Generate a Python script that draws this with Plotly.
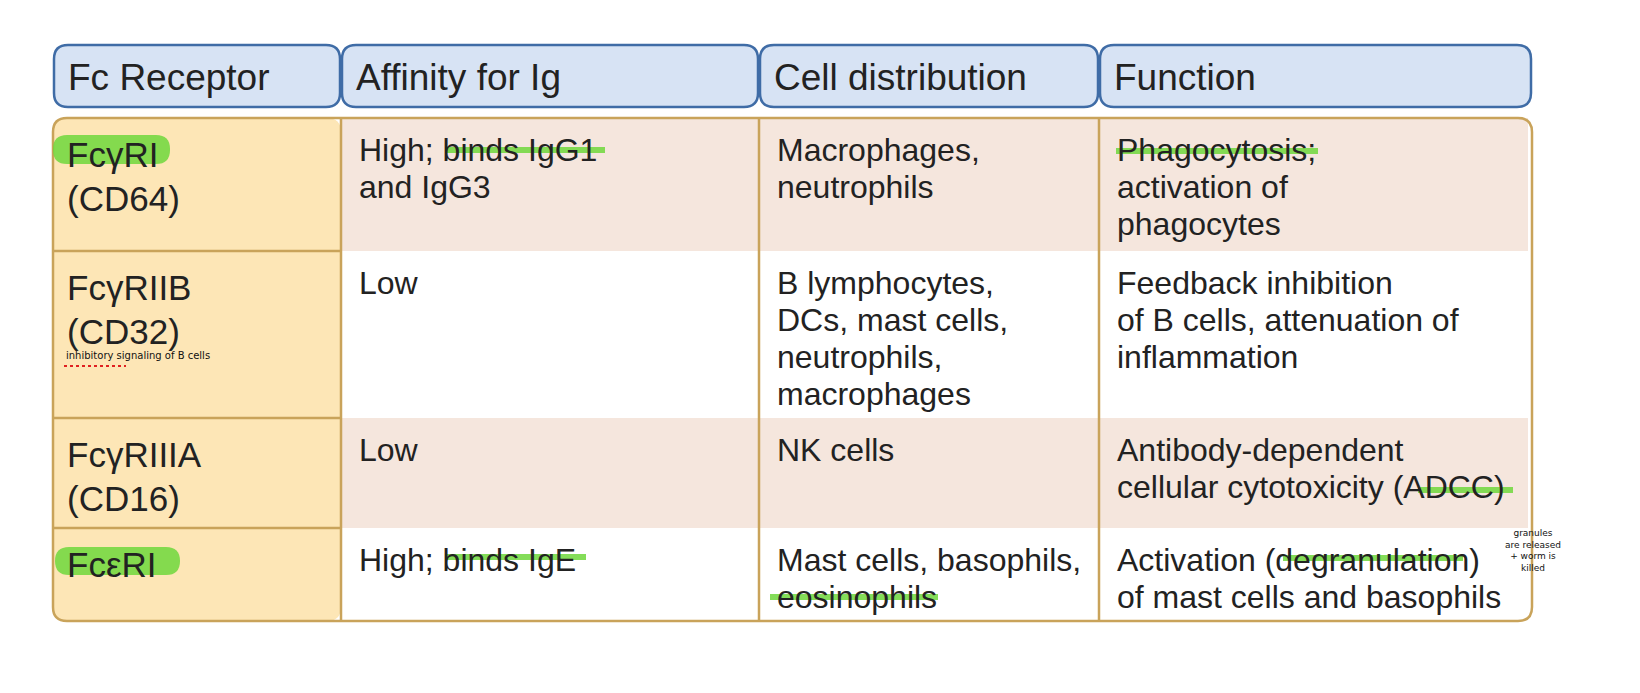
import plotly.graph_objects as go

headers = ["Fc Receptor", "Affinity for Ig", "Cell distribution", "Function"]
receptors = [["FcγRI", "(CD64)"], ["FcγRIIB", "(CD32)"], ["FcγRIIIA", "(CD16)"], ["FcεRI"]]
affinity = [["High; binds IgG1", "and IgG3"], ["Low"], ["Low"], ["High; binds IgE"]]
distribution = [["Macrophages,", "neutrophils"],
                ["B lymphocytes,", "DCs, mast cells,", "neutrophils,", "macrophages"],
                ["NK cells"],
                ["Mast cells, basophils,", "eosinophils"]]
function = [["Phagocytosis;", "activation of", "phagocytes"],
            ["Feedback inhibition", "of B cells, attenuation of", "inflammation"],
            ["Antibody-dependent", "cellular cytotoxicity (ADCC)"],
            ["Activation (degranulation)", "of mast cells and basophils"]]

col_x = [45, 333, 751, 1091, 1524]
row_y = [110, 243, 410, 520, 613]

fig = go.Figure()
fig.update_xaxes(range=[0, 1640], visible=False, fixedrange=True)
fig.update_yaxes(range=[693, 0], visible=False, fixedrange=True)

def rrect(x0, y0, x1, y1, r):
    return (f"M{x0+r},{y0} L{x1-r},{y0} Q{x1},{y0} {x1},{y0+r} L{x1},{y1-r} Q{x1},{y1} {x1-r},{y1} "
            f"L{x0+r},{y1} Q{x0},{y1} {x0},{y1-r} L{x0},{y0+r} Q{x0},{y0} {x0+r},{y0} Z")

shapes = []
for i in range(4):
    shapes.append(dict(type="path", path=rrect(col_x[i] + 1, 37, col_x[i + 1] - 1, 99, 14),
                       fillcolor="#d7e3f4", line=dict(color="#3f6ca6", width=2.5)))
for r in range(4):
    fill = "#f5e6dd" if r % 2 == 0 else "#ffffff"
    shapes.append(dict(type="rect", x0=col_x[1], x1=col_x[4] - 4, y0=row_y[r], y1=row_y[r + 1],
                       fillcolor=fill, line=dict(width=0), layer="below"))
shapes.append(dict(type="path", path=rrect(45, 110, 333, 613, 14), fillcolor="#fde6b6",
                   line=dict(width=0), layer="below"))
shapes.append(dict(type="path", path=rrect(45, 110, 1524, 613, 14), line=dict(color="#c9a35a", width=2.5)))
for x in col_x[1:4]:
    shapes.append(dict(type="line", x0=x, x1=x, y0=110, y1=613, line=dict(color="#c9a35a", width=2.5)))
for y in row_y[1:4]:
    shapes.append(dict(type="line", x0=45, x1=333, y0=y, y1=y, line=dict(color="#c9a35a", width=2.5)))

green = "rgba(110,215,60,0.85)"
shapes.append(dict(type="path", path=rrect(45, 127, 162, 156, 14), fillcolor=green, line=dict(width=0)))
shapes.append(dict(type="path", path=rrect(47, 539, 172, 567, 14), fillcolor=green, line=dict(width=0)))
for x0, x1, y in [(437, 597, 142), (1108, 1310, 143), (1410, 1505, 482),
                  (437, 578, 549), (1275, 1455, 550), (762, 930, 589)]:
    shapes.append(dict(type="line", x0=x0, x1=x1, y0=y, y1=y, line=dict(color=green, width=6)))
shapes.append(dict(type="line", x0=56, x1=118, y0=358, y1=358, line=dict(color="#e02020", width=2, dash="dot")))
fig.update_layout(shapes=shapes)

fam = "Liberation Sans, Arial"
for i, h in enumerate(headers):
    fig.add_annotation(x=col_x[i] + 13, y=69, text=h, showarrow=False, xanchor="left",
                       yanchor="middle", font=dict(family=fam, size=37, color="#222222"))
for c, col in enumerate([receptors, affinity, distribution, function]):
    size, step, x = (35, 44, col_x[c] + 12) if c == 0 else (32, 37, col_x[c] + 16)
    for r, lines in enumerate(col):
        for k, line in enumerate(lines):
            fig.add_annotation(x=x, y=row_y[r] + 32 + (4 if c == 0 else 0) + k * step, text=line,
                               showarrow=False, xanchor="left", yanchor="middle",
                               font=dict(family=fam, size=size, color="#222222"))

hand = dict(family="DejaVu Sans", size=10, color="#111111")
fig.add_annotation(x=56, y=347, text="inhibitory signaling of B cells", showarrow=False,
                   xanchor="left", yanchor="middle", font=hand)
fig.add_annotation(x=1525, y=542, text="granules<br>are released<br>+ worm is<br>killed", showarrow=False,
                   xanchor="center", yanchor="middle", align="center", font=dict(hand, size=9))

fig.update_layout(width=1640, height=693, margin=dict(l=0, r=0, t=0, b=0),
                  plot_bgcolor="white", paper_bgcolor="white", showlegend=False)
fig.write_html("out.html")
